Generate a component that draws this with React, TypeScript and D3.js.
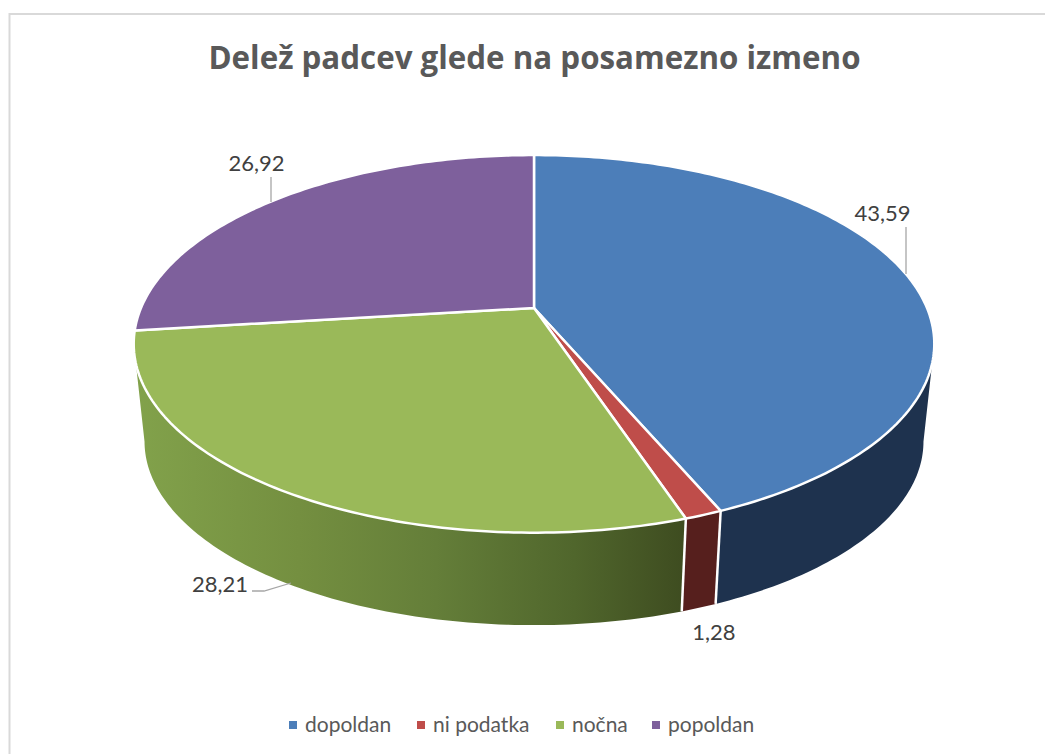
import React from "react";
import * as d3 from "d3";

const categories = ["dopoldan", "ni podatka", "nočna", "popoldan"];
const values = [43.59, 1.28, 28.21, 26.92];
const valueLabels = ["43,59", "1,28", "28,21", "26,92"];
const topColors = ["#4c7eb9", "#bf4d4a", "#9ab959", "#7e609c"];
const sideColors = ["#1e324e", "#561f1d", "url(#greenSide)"];

const width = 1045;
const height = 754;
const font = "Lato, 'Open Sans', sans-serif";
const titleFont = "'Open Sans', Lato, sans-serif";

// perspective of the pie disc, apex of the top face at cx,cy
const cx = 534;
const cy = 308;
const R = 393;
const A = 182;
const k = 0.19;
const bottomScale = 0.973;
const bottomCy = 406.5;

// where the disc silhouette turns from the front wall to the back
const tangent = Math.acos(-k);

const project = (angle: number, bottom = false): [number, number] => {
   const u = Math.sin(angle);
   const v = -Math.cos(angle);
   const w = 1 / (1 - k * v);
   const x = R * u * w;
   const y = A * v * w;
   return bottom
      ? [cx + bottomScale * x, bottomCy + bottomScale * y]
      : [cx + x, cy + y];
};

const arcAngles = (a0: number, a1: number) => {
   const n = Math.max(2, Math.ceil((a1 - a0) * 60));
   return d3.range(n + 1).map((i) => a0 + ((a1 - a0) * i) / n);
};

const line = d3.line();

const App = () => {
   const slices = d3
      .pie<number>()
      .sort(null)
      .value((d) => d)(values);

   const topPath = (a0: number, a1: number) =>
      line([[cx, cy], ...arcAngles(a0, a1).map((a) => project(a))]) + "Z";
   const sidePath = (a0: number, a1: number) => {
      const angles = arcAngles(a0, a1);
      return (
         line([
            ...angles.map((a) => project(a)),
            ...angles.slice().reverse().map((a) => project(a, true)),
         ]) + "Z"
      );
   };

   // only the front of the wall shows: the first slice starts at the right
   // tangent and the third one runs on to the left tangent
   const walls = [
      [tangent, slices[0].endAngle],
      [slices[1].startAngle, slices[1].endAngle],
      [slices[2].startAngle, 2 * Math.PI - tangent],
   ];
   const wallEdges = [slices[0].endAngle, slices[1].endAngle];

   return (
      <svg
         width={width}
         height={height}
         style={{ position: "absolute", left: 0, top: 0, background: "#fff" }}
      >
         <defs>
            <linearGradient id="greenSide" gradientUnits="userSpaceOnUse" x1={133} x2={685} y1={0} y2={0}>
               <stop offset="0" stopColor="#82a24b" />
               <stop offset="0.3" stopColor="#748f40" />
               <stop offset="0.55" stopColor="#647e39" />
               <stop offset="0.8" stopColor="#50662c" />
               <stop offset="1" stopColor="#3e4c20" />
            </linearGradient>
         </defs>

         <path
            d="M9.5,754V14H1045"
            fill="none"
            stroke="#d9d9d9"
            strokeWidth={2}
         />

         <text
            x={534.5}
            y={69}
            textAnchor="middle"
            fontFamily={titleFont}
            fontWeight={700}
            fontSize={31.3}
            fill="#595959"
         >
            Delež padcev glede na posamezno izmeno
         </text>

         {walls.map((w, i) => (
            <path key={"side" + i} d={sidePath(w[0], w[1])} fill={sideColors[i]} />
         ))}
         {wallEdges.map((a) => (
            <line
               key={a}
               x1={project(a)[0]}
               y1={project(a)[1]}
               x2={project(a, true)[0]}
               y2={project(a, true)[1]}
               stroke="#fff"
               strokeWidth={2.5}
            />
         ))}
         {slices.map((s, i) => (
            <path
               key={"top" + i}
               d={topPath(s.startAngle, s.endAngle)}
               fill={topColors[i]}
               stroke="#fff"
               strokeWidth={2.5}
               strokeLinejoin="round"
            />
         ))}

         {/* leader lines */}
         <g fill="none" stroke="#a6a6a6" strokeWidth={1.3}>
            <polyline points="906,227 906,274" />
            <polyline points="271,177 271,202" />
            <polyline points="252,591 264,591 291,583" />
         </g>

         <g fontFamily={font} fontSize={22} fill="#404040" textAnchor="middle">
            <text x={882.5} y={221}>{valueLabels[0]}</text>
            <text x={714} y={640}>{valueLabels[1]}</text>
            <text x={220} y={592}>{valueLabels[2]}</text>
            <text x={256.5} y={171}>{valueLabels[3]}</text>
         </g>

         <g fontFamily={font} fontSize={21} fill="#595959">
            {categories.map((c, i) => {
               const xs = [289, 417, 556, 652];
               return (
                  <g key={c} transform={`translate(${xs[i]},0)`}>
                     <rect x={0} y={721} width={8} height={8} fill={topColors[i]} />
                     <text x={16} y={732}>{c}</text>
                  </g>
               );
            })}
         </g>
      </svg>
   );
};

export default App;
